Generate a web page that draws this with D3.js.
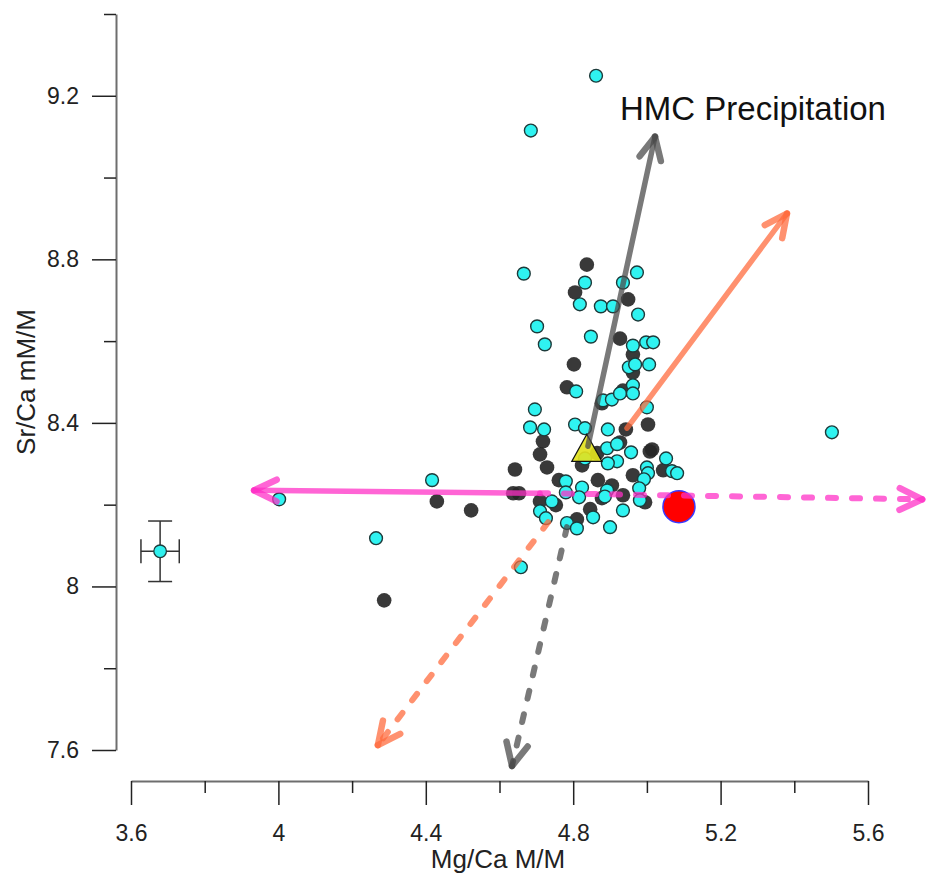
<!DOCTYPE html>
<html>
<head>
<meta charset="utf-8">
<script src="https://cdn.jsdelivr.net/npm/d3@7"></script>
<style>
  body { margin: 0; background: #fff; }
  svg { font-family: "Liberation Sans", Arial, sans-serif; }
  .axis text { font-size: 23px; fill: #222; }
  .axis .tick line { stroke: #222; stroke-width: 1.5; }
  .axis path.domain { stroke: #6e6e6e; stroke-width: 2; }
</style>
</head>
<body>
<div id="chart"></div>
<script>
var width  = 926;
var height = 877;

// Mg/Ca (M/M) and Sr/Ca (mM/M)
var cyanMg = [4.862, 4.685, 4.666, 4.832, 4.973, 4.935, 4.818, 4.875, 4.908, 4.976,
              4.702, 4.723, 4.848, 4.962, 4.998, 5.017, 4.951, 4.968, 5.006, 4.808,
              4.881, 4.905, 4.927, 4.962, 4.962, 4.696, 5.000, 4.683, 4.721, 4.805,
              4.832, 4.894, 4.892, 4.919, 4.957, 4.919, 4.894, 5.052, 5.068, 5.082,
              5.000, 5.003, 4.992, 4.979, 4.981, 4.892, 4.886, 4.935, 4.900, 4.780,
              4.824, 4.780, 4.816, 4.742, 4.710, 4.726, 4.783, 4.810, 4.854, 4.832,
              4.002, 4.417, 4.265, 5.502, 4.658];
var cyanSr = [9.249, 9.115, 8.765, 8.743, 8.768, 8.743, 8.690, 8.685, 8.685, 8.665,
              8.636, 8.592, 8.611, 8.589, 8.597, 8.597, 8.536, 8.543, 8.543, 8.477,
              8.455, 8.457, 8.472, 8.492, 8.472, 8.433, 8.438, 8.389, 8.384, 8.396,
              8.387, 8.384, 8.338, 8.348, 8.328, 8.306, 8.301, 8.313, 8.282, 8.277,
              8.291, 8.277, 8.262, 8.240, 8.211, 8.235, 8.220, 8.186, 8.145, 8.257,
              8.242, 8.230, 8.218, 8.208, 8.184, 8.167, 8.155, 8.142, 8.169, 8.313,
              8.213, 8.260, 8.118, 8.377, 8.047];

var darkMg = [4.837, 4.805, 4.949, 4.927, 4.962, 4.802, 4.962, 4.783, 4.878, 4.935,
              5.003, 4.943, 4.718, 4.710, 4.729, 4.642, 4.761, 4.637, 4.653, 4.867,
              4.905, 4.962, 5.008, 5.014, 5.044, 4.927, 4.824, 4.710, 4.753, 4.846,
              4.810, 4.878, 4.935, 4.995, 4.430, 4.523, 4.287, 4.865];
var darkSr = [8.787, 8.719, 8.702, 8.606, 8.567, 8.543, 8.523, 8.487, 8.448, 8.479,
              8.396, 8.384, 8.355, 8.323, 8.291, 8.286, 8.260, 8.228, 8.228, 8.260,
              8.247, 8.272, 8.330, 8.335, 8.284, 8.352, 8.296, 8.208, 8.199, 8.189,
              8.164, 8.216, 8.223, 8.206, 8.208, 8.186, 7.966, 8.326];

var triangle = [4.837, 8.333];
var redPoint = [5.087, 8.195];
var errPoint = [3.679, 8.086];
var errSize  = [0.052, 0.074];

// trend arrows: [startMg, startSr, endMg, endSr]
var arrowNames  = ["hmcUp", "hmcDown", "orangeUp", "orangeDown", "magentaLeft", "magentaRight"];
var arrowCoords = [[4.840, 8.343, 5.022, 9.100],
                   [4.783, 8.145, 4.634, 7.561],
                   [4.946, 8.387, 5.380, 8.912],
                   [4.732, 8.157, 4.270, 7.612],
                   [4.710, 8.228, 3.934, 8.235],
                   [4.710, 8.228, 5.747, 8.213]];
var arrowColors = ["#4a4a4a", "#4a4a4a", "#ff6a3d", "#ff6a3d", "#ff2fc6", "#ff2fc6"];
var arrowDashed = [false, true, false, true, false, true];

var xMajor = [3.6, 4, 4.4, 4.8, 5.2, 5.6];
var xMinor = [3.8, 4.2, 4.6, 5.0, 5.4];
var yMajor = [7.6, 8, 8.4, 8.8, 9.2];
var yMinor = [7.8, 8.2, 8.6, 9.0, 9.4];

var x = d3.scaleLinear().domain([3.6, 5.6]).range([131, 868]);
var y = d3.scaleLinear().domain([7.6, 9.4]).range([750, 14]);

var svg = d3.select("#chart").append("svg")
    .attr("width", width)
    .attr("height", height);

var defs = svg.append("defs");
defs.append("filter").attr("id", "soft")
    .append("feGaussianBlur").attr("stdDeviation", 0.7);

// axes
svg.append("g").attr("class", "axis")
    .attr("transform", "translate(116,0)")
    .call(d3.axisLeft(y).tickValues(yMajor).tickSize(24).tickSizeOuter(0).tickPadding(13)
          .tickFormat(function(d) { return d3.format("~g")(d); }));
svg.append("g").attr("class", "axis")
    .attr("transform", "translate(116,0)")
    .call(d3.axisLeft(y).tickValues(yMinor).tickSize(12).tickSizeOuter(0).tickFormat(""))
    .select(".domain").remove();

svg.append("g").attr("class", "axis")
    .attr("transform", "translate(0,781)")
    .call(d3.axisBottom(x).tickValues(xMajor).tickSize(24).tickSizeOuter(0).tickPadding(20)
          .tickFormat(function(d) { return d3.format("~g")(d); }));
svg.append("g").attr("class", "axis")
    .attr("transform", "translate(0,781)")
    .call(d3.axisBottom(x).tickValues(xMinor).tickSize(12).tickSizeOuter(0).tickFormat(""))
    .select(".domain").remove();

svg.append("text")
    .attr("x", 498).attr("y", 868)
    .attr("text-anchor", "middle")
    .attr("font-size", 26).attr("fill", "#222")
    .text("Mg/Ca M/M");

svg.append("text")
    .attr("transform", "translate(35,382) rotate(-90)")
    .attr("text-anchor", "middle")
    .attr("font-size", 26).attr("fill", "#222")
    .text("Sr/Ca mM/M");

// error bar sample
var eg = svg.append("g").attr("stroke", "#333").attr("stroke-width", 1.5).attr("fill", "none");
eg.append("line")
    .attr("x1", x(errPoint[0] - errSize[0])).attr("x2", x(errPoint[0] + errSize[0]))
    .attr("y1", y(errPoint[1])).attr("y2", y(errPoint[1]));
eg.append("line")
    .attr("x1", x(errPoint[0])).attr("x2", x(errPoint[0]))
    .attr("y1", y(errPoint[1] - errSize[1])).attr("y2", y(errPoint[1] + errSize[1]));
[-1, 1].forEach(function(s) {
  eg.append("line")
    .attr("x1", x(errPoint[0] + s * errSize[0])).attr("x2", x(errPoint[0] + s * errSize[0]))
    .attr("y1", y(errPoint[1]) - 12).attr("y2", y(errPoint[1]) + 12);
  eg.append("line")
    .attr("x1", x(errPoint[0]) - 12).attr("x2", x(errPoint[0]) + 12)
    .attr("y1", y(errPoint[1] + s * errSize[1])).attr("y2", y(errPoint[1] + s * errSize[1]));
});
svg.append("circle")
    .attr("cx", x(errPoint[0])).attr("cy", y(errPoint[1])).attr("r", 6.3)
    .attr("fill", "#2ff0ee").attr("stroke", "#1e3b3b").attr("stroke-width", 1.3);
eg.append("line")
    .attr("x1", x(errPoint[0]) - 6).attr("x2", x(errPoint[0]) + 6)
    .attr("y1", y(errPoint[1])).attr("y2", y(errPoint[1]));
eg.append("line")
    .attr("x1", x(errPoint[0])).attr("x2", x(errPoint[0]))
    .attr("y1", y(errPoint[1]) - 6).attr("y2", y(errPoint[1]) + 6);

// data points
var dark = darkMg.map(function(d, i) { return [d, darkSr[i]]; });
var cyan = cyanMg.map(function(d, i) { return [d, cyanSr[i]]; });

svg.append("g").attr("filter", "url(#soft)")
  .selectAll("circle").data(dark)
  .enter().append("circle")
    .attr("cx", function(d) { return x(d[0]); })
    .attr("cy", function(d) { return y(d[1]); })
    .attr("r", 7.3)
    .attr("fill", "#262626")
    .attr("fill-opacity", 0.9);

svg.append("g")
  .selectAll("circle").data(cyan)
  .enter().append("circle")
    .attr("cx", function(d) { return x(d[0]); })
    .attr("cy", function(d) { return y(d[1]); })
    .attr("r", 6.4)
    .attr("fill", "#2ff3f1")
    .attr("stroke", "#1d3a3a")
    .attr("stroke-width", 1.4);

svg.append("circle")
    .attr("cx", x(redPoint[0])).attr("cy", y(redPoint[1])).attr("r", 16)
    .attr("fill", "#ff0000").attr("stroke", "#3a3aff").attr("stroke-width", 1.5);

var tx = x(triangle[0]), ty = y(triangle[1]);
svg.append("path")
    .attr("d", "M" + tx + "," + (ty - 16) + "L" + (tx + 15) + "," + (ty + 11) + "L" + (tx - 15) + "," + (ty + 11) + "Z")
    .attr("fill", "#e2e21e").attr("fill-opacity", 0.92)
    .attr("stroke", "#111").attr("stroke-width", 1.3);

// arrows, drawn over the points
function drawArrow(c, color, dashed) {
  var x1 = x(c[0]), y1 = y(c[1]), x2 = x(c[2]), y2 = y(c[3]);
  var g = svg.append("g")
      .attr("stroke", color).attr("stroke-opacity", 0.74)
      .attr("stroke-width", 5.5).attr("stroke-linecap", "round")
      .attr("stroke-linejoin", "round").attr("fill", "none");
  g.append("line")
      .attr("x1", x1).attr("y1", y1).attr("x2", x2).attr("y2", y2)
      .attr("stroke-width", dashed ? 6 : 5.5)
      .attr("stroke-dasharray", dashed ? "8,16" : null);
  var ang = Math.atan2(y1 - y2, x1 - x2), len = 25, spread = 0.45;
  [-spread, spread].forEach(function(s) {
    g.append("line")
      .attr("x1", x2).attr("y1", y2)
      .attr("x2", x2 + len * Math.cos(ang + s))
      .attr("y2", y2 + len * Math.sin(ang + s))
      .attr("stroke-width", 6.5);
  });
}
arrowCoords.forEach(function(c, i) { drawArrow(c, arrowColors[i], arrowDashed[i]); });

svg.append("text")
    .attr("x", 620).attr("y", 120)
    .attr("font-size", 33).attr("fill", "#111")
    .text("HMC Precipitation");
</script>
</body>
</html>
